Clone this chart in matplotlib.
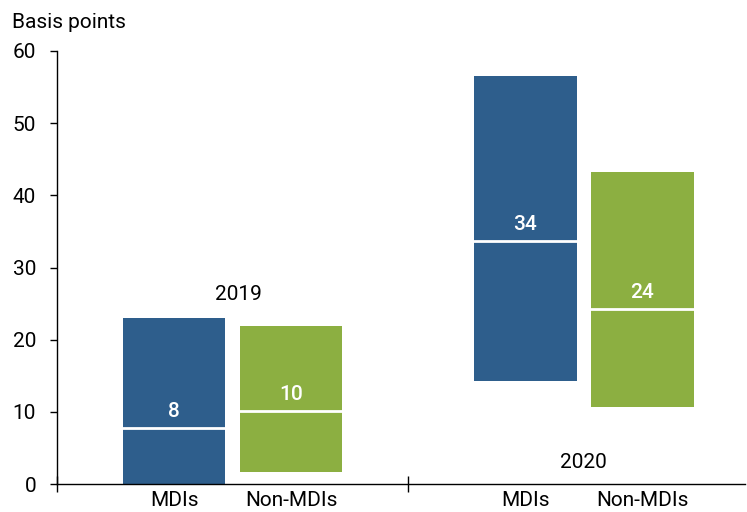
import matplotlib.pyplot as plt

plt.rcParams['font.family'] = ['Roboto', 'DejaVu Sans']

groups = ["MDIs", "Non-MDIs", "MDIs", "Non-MDIs"]
years = ["2019", "2020"]
low = [0.0, 1.7, 14.3, 10.7]
high = [23.0, 21.9, 56.5, 43.3]
median = [7.7, 10.1, 33.7, 24.3]
median_labels = ["8", "10", "34", "24"]
colors = ["#2E5E8C", "#8CAF41", "#2E5E8C", "#8CAF41"]

xpos = [1, 2, 4, 5]
width = 0.88

fig = plt.figure(figsize=(7.47, 5.12), dpi=100)
ax = fig.add_axes([57 / 747, 28 / 512, 688 / 747, 433 / 512])

for x, lo, hi, md, lab, c in zip(xpos, low, high, median, median_labels, colors):
    ax.bar(x, hi - lo, bottom=lo, width=width, color=c, edgecolor="none")
    ax.plot([x - width / 2, x + width / 2], [md, md], color="white", lw=2)
    ax.annotate(lab, (x, md), xytext=(0, 5), textcoords="offset points",
                ha="center", va="bottom", color="white", fontsize=15,
                fontweight="medium")

ax.text(1.55, 26.3, years[0], ha="center", va="center", fontsize=15)
ax.text(4.5, 3.0, years[1], ha="center", va="center", fontsize=15)

for x, g in zip(xpos, groups):
    ax.text(x, -2.3, g, ha="center", va="center", fontsize=15)

ax.set_xlim(0, 5.88)
ax.set_ylim(0, 60)
ax.set_yticks(range(0, 61, 10))
ax.set_xticks([0, 3])
ax.set_xticklabels([])
ax.tick_params(axis="y", direction="out", length=5, width=1, labelsize=15, pad=10)
ax.tick_params(axis="x", direction="inout", length=12, width=1)
for s in ["top", "right"]:
    ax.spines[s].set_visible(False)
for s in ["left", "bottom"]:
    ax.spines[s].set_linewidth(1)

fig.text(12 / 747, 1 - 22 / 512, "Basis points", ha="left", va="center", fontsize=15)

fig.savefig("out.png", dpi=100)
